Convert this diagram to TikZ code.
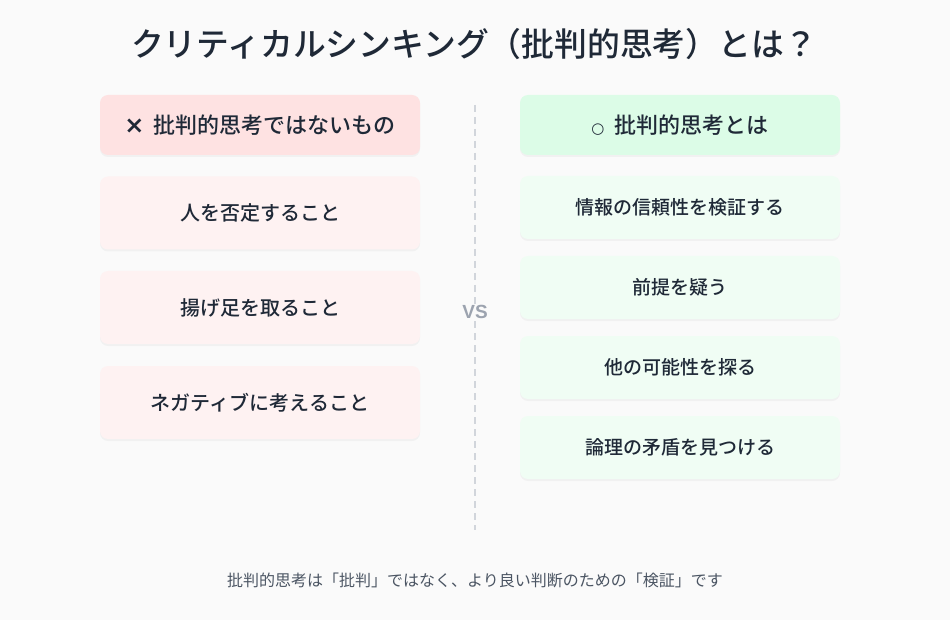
\documentclass[tikz,border=0pt]{standalone}
\usepackage{fontspec}
\setmainfont{Noto Sans CJK JP}
\newfontfamily\cjk{Noto Sans CJK JP}[BoldFont={Noto Sans CJK JP Medium}]
\newfontfamily\dejavu{DejaVu Sans}
\newfontfamily\libsans{Liberation Sans}
\usetikzlibrary{shadows}
\definecolor{bgc}{HTML}{FAFAFA}
\definecolor{txt}{HTML}{1F2937}
\definecolor{redhead}{HTML}{FEE2E2}
\definecolor{reditem}{HTML}{FEF2F2}
\definecolor{greenhead}{HTML}{DCFCE7}
\definecolor{greenitem}{HTML}{F0FDF4}
\definecolor{divc}{HTML}{D1D5DB}
\definecolor{vsc}{HTML}{9CA3AF}
\definecolor{footc}{HTML}{4B5563}
\tikzset{
  card/.style={rounded corners=8pt, draw=none, minimum width=320pt, text=txt,
    drop shadow={opacity=0.07, shadow xshift=0pt, shadow yshift=-2pt}},
  redheadbox/.style={card, fill=redhead, minimum height=60pt, font=\cjk\bfseries\fontsize{22}{26}\selectfont},
  reditembox/.style={card, fill=reditem, minimum height=73pt, font=\cjk\bfseries\fontsize{20}{24}\selectfont},
  greenheadbox/.style={card, fill=greenhead, minimum height=60pt, font=\cjk\bfseries\fontsize{22}{26}\selectfont},
  greenitembox/.style={card, fill=greenitem, minimum height=63pt, font=\cjk\bfseries\fontsize{19}{23}\selectfont},
}
\begin{document}
\begin{tikzpicture}[x=1pt,y=-1pt]
\fill[bgc] (0,0) rectangle (950,620);
\useasboundingbox (0,0) rectangle (950,620);
\node[text=txt, font=\cjk\bfseries\fontsize{32.8}{38}\selectfont] (title) at (474,44) {クリティカルシンキング（批判的思考）とは？};
% divider
\coordinate (dtop) at (475,105);
\coordinate (dbot) at (475,530);
\draw[divc, line width=1.5pt, dash pattern=on 7pt off 5pt] (dtop) -- (dbot);
\node[fill=bgc, text=vsc, font=\libsans\bfseries\fontsize{19}{23}\selectfont, inner sep=1pt] (vs) at (475,312) {VS};
% left
\node[redheadbox] (lh) at (260,125) {{\dejavu\bfseries\fontsize{24}{26}\selectfont ×}\hspace{9pt}批判的思考ではないもの};
\node[reditembox] (l1) at (260,213) {人を否定すること};
\node[reditembox] (l2) at (260,307.5) {揚げ足を取ること};
\node[reditembox] (l3) at (260,402.5) {ネガティブに考えること};
% right
\node[greenheadbox] (rh) at (680,125) {{\dejavu\fontsize{15}{20}\selectfont ○}\hspace{10pt}批判的思考とは};
\node[greenitembox] (r1) at (680,207.5) {情報の信頼性を検証する};
\node[greenitembox] (r2) at (680,287.5) {前提を疑う};
\node[greenitembox] (r3) at (680,367.5) {他の可能性を探る};
\node[greenitembox] (r4) at (680,447.5) {論理の矛盾を見つける};
% footer
\node[text=footc, font=\cjk\fontsize{16}{20}\selectfont] (foot) at (475,580) {批判的思考は「批判」ではなく、より良い判断のための「検証」です};
\end{tikzpicture}
\end{document}
